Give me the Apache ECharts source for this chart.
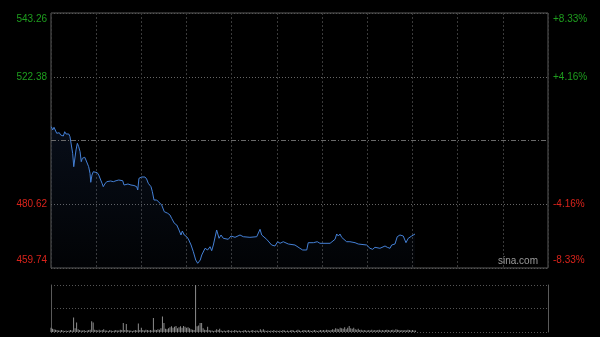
<!DOCTYPE html>
<html>
<head>
<meta charset="utf-8">
<script src="https://cdn.jsdelivr.net/npm/echarts@6/dist/echarts.min.js"></script>
<style>
html,body{margin:0;padding:0;background:#000;}
#c{width:600px;height:337px;}
</style>
</head>
<body>
<div id="c"></div>
<script>
// ---- data ----
const PREV_CLOSE = 501.50;
const STEP = 20.88;
const leftLabels = ['459.74', '480.62', '', '522.38', '543.26'];
const rightLabels = ['-8.33%', '-4.16%', '', '+4.16%', '+8.33%'];

// minutes since open (0..330, 30-min grid) and prices
const minutes = [0.2,1.1,2.0,2.8,3.8,4.6,5.5,6.4,7.3,8.2,9.1,10,10.8,11.8,12.6,13.5,14.4,15.1,15.7,16.6,
17.5,18.4,19.3,20.1,20.8,21.4,22.4,23.2,24.1,25,25.9,26.4,27.2,28.1,29.4,30.7,31.7,33,33.9,34.7,
35.7,37,38.3,39.6,41.4,43.2,45,46.3,47.6,48.5,49.8,51.1,53.1,55.1,56.9,57.6,58.4,60.2,62.4,63.5,
64.6,66.4,67.3,68.4,70.2,71.2,73.5,75.2,77.5,79,80.1,81.9,83.5,85,86.3,87.2,88.5,90.1,91.2,93,
94.5,96.1,97.4,98.3,99.1,100.1,102.3,104,105.6,106.7,107.8,110,111.6,112.9,114.4,117.7,119.5,122.2,125.5,127.7,
132.1,136.6,138.8,139.9,143.2,146.5,148.7,150.5,152.1,154.2,157.6,162,165.3,167.1,169.8,170.8,174.2,175.3,176.8,178.6,
185.3,186.4,188.6,189.7,190.8,191.9,193,194.1,196.3,198.5,199.7,201.9,204,209.6,211.8,213.6,215.1,218.4,221.8,223.3,
225.1,226.2,228.4,229.9,231.7,233.9,235.7,237.2,239.5,241.7];
const prices = [506.02,504.94,505.82,505.17,503.86,503.30,504.05,503.30,503.86,502.97,504.38,503.63,503.30,503.63,502.74,502.09,497.31,492.92,495.11,498.39,
500.58,499.47,497.83,494.56,495.67,495.34,496.00,495.11,494.56,492.92,490.76,487.81,490.20,491.28,491.28,490.95,490.20,488.56,487.48,486.37,
487.25,488.01,487.68,488.24,488.01,488.33,488.56,488.79,488.33,486.92,487.48,487.25,486.92,486.76,486.37,485.29,489.12,489.55,489.55,488.89,
487.48,486.37,484.73,482.01,482.01,481.46,480.37,478.18,477.66,477.10,476.02,474.38,473.82,472.19,470.55,471.86,470.55,469.99,469.24,467.27,
465.08,462.36,461.28,460.72,462.36,464.00,466.19,465.64,466.72,465.41,467.27,472.19,469.47,470.55,469.47,469.14,470.22,469.79,470.55,469.99,
469.79,469.99,472.42,470.55,469.14,467.27,466.95,468.35,467.83,468.35,467.60,467.27,466.19,465.64,465.64,468.03,468.03,467.60,468.35,467.83,
467.83,468.35,469.14,470.88,470.22,470.88,469.79,469.14,468.35,468.35,468.91,468.03,467.60,467.27,466.19,465.86,466.52,466.19,466.95,466.52,
466.19,467.27,467.60,469.99,470.55,470.22,468.03,469.47,470.22,470.88];

// volume per minute (relative, 100 = top of the volume panel)
const volumes = [9,7,6,5,4,3,3,4,3,2,
3,2,3,4,3,31,8,20,6,4,
3,3,4,2,3,4,5,23,20,5,
4,3,5,3,4,6,3,3,2,4,
3,2,3,4,3,3,5,4,19,4,
17,4,3,3,2,3,4,3,18,4,
9,4,3,5,4,3,4,3,30,5,
4,6,5,8,33,19,7,6,8,10,
12,9,11,13,8,10,12,9,13,11,
9,10,8,6,5,4,100,12,14,19,
19,8,5,4,11,4,3,3,2,3,
6,4,7,3,2,3,2,3,4,2,
3,2,4,3,2,3,2,2,3,4,
2,3,2,3,4,2,3,3,2,6,
3,6,3,2,3,2,3,2,4,2,
3,2,3,2,4,3,2,3,2,3,
4,3,2,3,5,3,2,3,4,3,
3,4,3,2,3,4,3,2,3,4,
3,4,3,5,4,3,4,6,5,8,
7,6,9,8,7,10,6,9,13,8,
7,9,6,5,7,4,5,3,4,3,
3,4,3,5,3,4,3,4,5,3,
4,3,4,5,4,3,4,5,3,6,
5,4,3,4,3,4,3,5,4,3,
4,3,3];

// ---- chart ----
const lineData = minutes.map((m, i) => [m, +(prices[i] - PREV_CLOSE).toFixed(2)]);
const volData = volumes.map((v, i) => [i, v]);

function tickIndex(v) { return Math.round(v / STEP) + 2; }
function labelColor(v) { return v > 0.001 ? '#1e9e1e' : (v < -0.001 ? '#d9231b' : '#888'); }
function richFormatter(arr) {
  return function (v) {
    const i = tickIndex(v);
    const t = arr[i] || '';
    if (!t) return '';
    const c = v > 0 ? 'g' : 'r';
    if (i === 4) return '{' + c + 'T|' + t + '}';
    if (i === 0) return '{' + c + 'B|' + t + '}';
    return '{' + c + '|' + t + '}';
  };
}
const baseText = { fontFamily: 'Liberation Sans, Arial, sans-serif', fontSize: 10 };
const rich = {
  g: Object.assign({ color: '#1e9e1e' }, baseText),
  r: Object.assign({ color: '#d9231b' }, baseText),
  gT: Object.assign({ color: '#1e9e1e', padding: [12, 0, 0, 0] }, baseText),
  rT: Object.assign({ color: '#d9231b', padding: [12, 0, 0, 0] }, baseText),
  gB: Object.assign({ color: '#1e9e1e', padding: [0, 0, 16, 0] }, baseText),
  rB: Object.assign({ color: '#d9231b', padding: [0, 0, 16, 0] }, baseText)
};

const chart = echarts.init(document.getElementById('c'), null, { renderer: 'canvas' });
chart.setOption({
  backgroundColor: '#000',
  animation: false,
  title: {
    text: 'sina.com', right: 62, top: 256, padding: 0,
    textStyle: { color: '#9a9a9a', fontSize: 10, fontWeight: 'normal', fontFamily: 'Liberation Sans, Arial, sans-serif' }
  },
  grid: [
    { left: 51, top: 13, width: 497, height: 255, show: true, borderColor: '#5a5a5a', borderWidth: 1, backgroundColor: 'transparent' },
    { left: 51, top: 285, width: 497, height: 47, show: false }
  ],
  xAxis: [
    {
      type: 'value', gridIndex: 0, min: 0, max: 330, interval: 30,
      axisLine: { show: false }, axisTick: { show: false }, axisLabel: { show: false },
      splitLine: { show: true, lineStyle: { color: '#3a3a3a', type: [2, 2], width: 1 } }
    },
    {
      type: 'value', gridIndex: 1, min: 0, max: 330, interval: 30,
      axisLine: { show: false }, axisTick: { show: false }, axisLabel: { show: false },
      splitLine: { show: false }
    }
  ],
  yAxis: [
    {
      type: 'value', gridIndex: 0, position: 'left',
      min: -2 * STEP, max: 2 * STEP, interval: STEP,
      axisLine: { show: false }, axisTick: { show: false },
      axisLabel: { show: true, margin: 4, formatter: richFormatter(leftLabels), rich: rich },
      splitLine: { show: true, lineStyle: { color: ['#555', '#666', 'transparent', '#666', '#555'], type: [1, 2], width: 1 } }
    },
    {
      type: 'value', gridIndex: 0, position: 'right',
      min: -2 * STEP, max: 2 * STEP, interval: STEP,
      axisLine: { show: false }, axisTick: { show: false },
      axisLabel: { show: true, margin: 5, formatter: richFormatter(rightLabels), rich: rich },
      splitLine: { show: false }
    },
    {
      type: 'value', gridIndex: 1, position: 'left', min: 0, max: 100, interval: 50,
      axisLine: { show: true, lineStyle: { color: '#5a5a5a', width: 1 } },
      axisTick: { show: false }, axisLabel: { show: false },
      splitLine: { show: true, lineStyle: { color: '#555', type: [1, 2], width: 1 } }
    },
    {
      type: 'value', gridIndex: 1, position: 'right', min: 0, max: 100, interval: 50,
      axisLine: { show: true, lineStyle: { color: '#5a5a5a', width: 1 } },
      axisTick: { show: false }, axisLabel: { show: false },
      splitLine: { show: false }
    }
  ],
  series: [
    {
      type: 'line', xAxisIndex: 0, yAxisIndex: 0, data: lineData,
      showSymbol: false, symbol: 'none', smooth: false,
      lineStyle: { color: '#4480d6', width: 1 },
      areaStyle: {
        origin: 'start',
        color: new echarts.graphic.LinearGradient(0, 0, 0, 1, [
          { offset: 0, color: 'rgba(40,70,125,0.28)' },
          { offset: 1, color: 'rgba(40,70,125,0.06)' }
        ])
      },
      markLine: {
        silent: true, symbol: 'none', label: { show: false },
        lineStyle: { color: '#6a6a6a', type: [5, 2, 1, 2], width: 1 },
        data: [{ yAxis: 0 }]
      }
    },
    {
      type: 'bar', xAxisIndex: 1, yAxisIndex: 2, data: volData,
      barWidth: 1, itemStyle: { color: '#8c8c8c' }
    }
  ]
});
</script>
</body>
</html>
